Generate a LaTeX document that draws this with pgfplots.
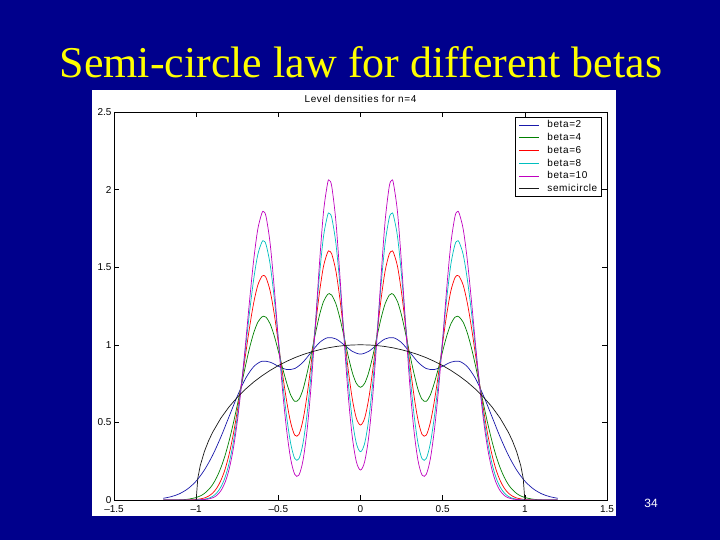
\documentclass[border=0pt]{standalone}
\usepackage{pgfplots}
\pgfplotsset{compat=1.18}
\usepackage{pgfplotstable}
\usepackage{fontspec}
\setmainfont{Liberation Serif}
\newfontfamily\helv{Liberation Sans}
\newfontfamily\helvls[LetterSpace=6]{Liberation Sans}
\definecolor{slidebg}{RGB}{0,0,140}
\definecolor{titleyellow}{RGB}{255,255,0}
\definecolor{mblue}{RGB}{25,25,170}
\definecolor{mgreen}{RGB}{0,128,0}
\definecolor{mred}{RGB}{255,0,0}
\definecolor{mcyan}{RGB}{0,191,191}
\definecolor{mmagenta}{RGB}{191,0,191}
\definecolor{mgray}{RGB}{25,25,25}

\pgfplotstableread{
x b4 b6 b8 b10
-1.2 0 0 0 0
-1.15 0 0 0 0
-1.1 0.001 0 0 0
-1.05 0.005 0.001 0 0
-1.0 0.016 0.003 0.001 0
-0.975 0.026 0.007 0.002 0.001
-0.95 0.042 0.013 0.005 0.003
-0.925 0.066 0.025 0.011 0.006
-0.9 0.099 0.044 0.023 0.014
-0.875 0.146 0.076 0.045 0.029
-0.85 0.207 0.125 0.083 0.059
-0.825 0.284 0.195 0.143 0.111
-0.8 0.379 0.292 0.235 0.196
-0.775 0.489 0.418 0.365 0.324
-0.75 0.610 0.572 0.535 0.503
-0.725 0.738 0.747 0.743 0.733
-0.7 0.864 0.933 0.975 1.002
-0.675 0.980 1.113 1.211 1.285
-0.65 1.076 1.270 1.422 1.546
-0.625 1.145 1.384 1.581 1.745
-0.6 1.180 1.442 1.662 1.849
-0.59 1.184 1.447 1.669 1.858
-0.575 1.178 1.433 1.647 1.828
-0.55 1.135 1.348 1.519 1.654
-0.525 1.058 1.199 1.301 1.368
-0.5 0.959 1.013 1.036 1.033
-0.475 0.853 0.817 0.770 0.714
-0.45 0.757 0.641 0.541 0.455
-0.425 0.677 0.499 0.365 0.265
-0.4 0.636 0.418 0.267 0.165
-0.375 0.648 0.422 0.265 0.160
-0.35 0.712 0.515 0.365 0.254
-0.325 0.818 0.676 0.556 0.451
-0.3 0.939 0.881 0.818 0.743
-0.275 1.069 1.113 1.130 1.118
-0.25 1.189 1.334 1.445 1.518
-0.225 1.279 1.506 1.699 1.857
-0.2 1.325 1.596 1.835 2.043
-0.19 1.330 1.603 1.847 2.060
-0.175 1.320 1.585 1.819 2.021
-0.15 1.265 1.477 1.656 1.799
-0.125 1.170 1.293 1.385 1.440
-0.1 1.051 1.067 1.066 1.038
-0.075 0.928 0.841 0.761 0.677
-0.05 0.822 0.652 0.518 0.407
-0.025 0.751 0.526 0.364 0.246
0 0.726 0.483 0.311 0.193
0.025 0.751 0.526 0.364 0.246
0.05 0.822 0.652 0.518 0.407
0.075 0.928 0.841 0.761 0.677
0.1 1.051 1.067 1.066 1.038
0.125 1.170 1.293 1.385 1.440
0.15 1.265 1.477 1.656 1.799
0.175 1.320 1.585 1.819 2.021
0.19 1.330 1.603 1.847 2.060
0.2 1.325 1.596 1.835 2.043
0.225 1.279 1.506 1.699 1.857
0.25 1.189 1.334 1.445 1.518
0.275 1.069 1.113 1.130 1.118
0.3 0.939 0.881 0.818 0.743
0.325 0.818 0.676 0.556 0.451
0.35 0.712 0.515 0.365 0.254
0.375 0.648 0.422 0.265 0.160
0.4 0.636 0.418 0.267 0.165
0.425 0.677 0.499 0.365 0.265
0.45 0.757 0.641 0.541 0.455
0.475 0.853 0.817 0.770 0.714
0.5 0.959 1.013 1.036 1.033
0.525 1.058 1.199 1.301 1.368
0.55 1.135 1.348 1.519 1.654
0.575 1.178 1.433 1.647 1.828
0.59 1.184 1.447 1.669 1.858
0.6 1.180 1.442 1.662 1.849
0.625 1.145 1.384 1.581 1.745
0.65 1.076 1.270 1.422 1.546
0.675 0.980 1.113 1.211 1.285
0.7 0.864 0.933 0.975 1.002
0.725 0.738 0.747 0.743 0.733
0.75 0.610 0.572 0.535 0.503
0.775 0.489 0.418 0.365 0.324
0.8 0.379 0.292 0.235 0.196
0.825 0.284 0.195 0.143 0.111
0.85 0.207 0.125 0.083 0.059
0.875 0.146 0.076 0.045 0.029
0.9 0.099 0.044 0.023 0.014
0.925 0.066 0.025 0.011 0.006
0.95 0.042 0.013 0.005 0.003
0.975 0.026 0.007 0.002 0.001
1.0 0.016 0.003 0.001 0
1.05 0.005 0.001 0 0
1.1 0.001 0 0 0
1.15 0 0 0 0
1.2 0 0 0 0
}\betatab

\pgfplotstableread{
x y
-1.2 0.011
-1.15 0.022
-1.1 0.041
-1.05 0.073
-1.0 0.122
-0.95 0.193
-0.9 0.288
-0.85 0.405
-0.8 0.537
-0.75 0.668
-0.7 0.782
-0.65 0.859
-0.6 0.894
-0.55 0.888
-0.5 0.862
-0.45 0.841
-0.4 0.847
-0.35 0.888
-0.3 0.952
-0.25 1.014
-0.2 1.046
-0.15 1.038
-0.1 1.000
-0.05 0.958
0 0.940
0.05 0.958
0.1 1.000
0.15 1.038
0.2 1.046
0.25 1.014
0.3 0.952
0.35 0.888
0.4 0.847
0.45 0.841
0.5 0.862
0.55 0.888
0.6 0.894
0.65 0.859
0.7 0.782
0.75 0.668
0.8 0.537
0.85 0.405
0.9 0.288
0.95 0.193
1.0 0.122
1.05 0.073
1.1 0.041
1.15 0.022
1.2 0.011
}\betatwo

\pgfplotstableread{
x y
-1.0 0
-0.99 0.141
-0.975 0.222
-0.95 0.312
-0.925 0.380
-0.9 0.436
-0.85 0.527
-0.8 0.600
-0.75 0.661
-0.7 0.714
-0.65 0.760
-0.6 0.800
-0.55 0.835
-0.5 0.866
-0.45 0.893
-0.4 0.917
-0.35 0.937
-0.3 0.954
-0.25 0.968
-0.2 0.980
-0.15 0.989
-0.1 0.995
-0.05 0.999
0 1.000
0.05 0.999
0.1 0.995
0.15 0.989
0.2 0.980
0.25 0.968
0.3 0.954
0.35 0.937
0.4 0.917
0.45 0.893
0.5 0.866
0.55 0.835
0.6 0.800
0.65 0.760
0.7 0.714
0.75 0.661
0.8 0.600
0.85 0.527
0.9 0.436
0.925 0.380
0.95 0.312
0.975 0.222
0.99 0.141
1.0 0
}\semic

\begin{document}
\begin{tikzpicture}[x=1pt,y=1pt]
\fill[slidebg] (0,0) rectangle (720,540);
\useasboundingbox (0,0) rectangle (720,540);
\fill[white] (92,24) rectangle (616,450);
\node[anchor=base, text=titleyellow, font=\fontsize{44}{50}\selectfont, inner sep=0pt] at (361,462) {Semi-circle law for different betas};
\node[anchor=base, text=white, font=\helv\fontsize{12}{14}\selectfont, inner sep=0pt] at (651,32) {34};
\begin{axis}[
  at={(114pt,40pt)}, anchor=south west,
  scale only axis, width=493pt, height=388pt,
  xmin=-1.5, xmax=1.5, ymin=0, ymax=2.5,
  xtick={-1.5,-1,-0.5,0,0.5,1,1.5},
  xticklabels={–1.5,–1,–0.5,0,0.5,1,1.5},
  ytick={0,0.5,1,1.5,2,2.5},
  yticklabels={0,0.5,1,1.5,2,2.5},
  tick align=inside, major tick length=5pt,
  tick style={black, line width=0.4pt},
  axis line style={black, line width=0.6pt},
  ticklabel style={font=\helv\fontsize{10}{11}\selectfont},
  xticklabel style={yshift=-2pt},
  yticklabel style={xshift=1pt},
  title={Level densities for n=4},
  title style={font=\helvls\fontsize{10}{11}\selectfont, at={(0.5,1)}, anchor=south, inner sep=0pt, yshift=3pt},
  legend style={at={(1,1)}, anchor=north east, xshift=-6pt, yshift=-5pt,
    font=\helvls\fontsize{10}{11}\selectfont, draw=black, line width=0.5pt,
    inner sep=1.5pt, row sep=0pt, cells={anchor=west}},
  legend cell align=left,
  legend image code/.code={\path[draw=none] (-3pt,0pt) -- (26pt,0pt); \draw[#1, line width=0.8pt] (0pt,0pt) -- (20pt,0pt);},
  every axis plot/.append style={line width=0.7pt},
]
\addplot[draw=mblue, smooth] table[x=x, y=y] {\betatwo};
\addlegendentry{beta=2}
\addplot[draw=mgreen, smooth] table[x=x, y=b4] {\betatab};
\addlegendentry{beta=4}
\addplot[draw=mred, smooth] table[x=x, y=b6] {\betatab};
\addlegendentry{beta=6}
\addplot[draw=mcyan, smooth] table[x=x, y=b8] {\betatab};
\addlegendentry{beta=8}
\addplot[draw=mmagenta, smooth] table[x=x, y=b10] {\betatab};
\addlegendentry{beta=10}
\addplot[draw=mgray] table[x=x, y=y] {\semic};
\addlegendentry{semicircle}
\end{axis}
\end{tikzpicture}
\end{document}
